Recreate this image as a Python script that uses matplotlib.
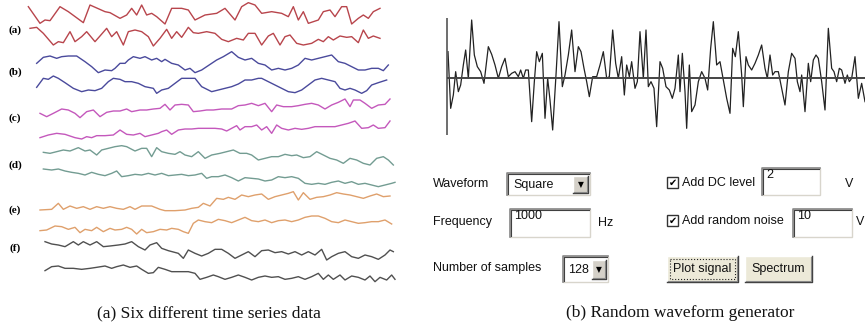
import numpy as np
import matplotlib
matplotlib.use("Agg")
import matplotlib.pyplot as plt
from matplotlib.patches import Rectangle

# ---- panel (a): six pairs of time series, (t, value) ----
# value is measured upwards from the bottom of each strip
red1 = [(10,55),(45,5),(60,15),(75,13),(105,55),(130,40),(175,7),(195,60),(240,40),(255,37),
        (285,20),(305,30),(320,50),(335,30),(350,60),(365,30),(380,35),(395,25),(420,3),(440,50),
        (470,50),(490,45),(510,15),(540,30),(575,35),(600,50),(630,15),(650,55),(670,67),(690,60),
        (710,35),(740,40),(770,35),(790,25),(805,55),(820,15),(835,40),(850,5),(880,15),(895,40),
        (915,45),(930,25),(950,55),(965,55),(980,3),(1000,20),(1015,30),(1030,20),(1045,40),(1065,50)]
red2 = [(15,55),(35,58),(55,40),(85,5),(100,15),(115,12),(135,45),(150,15),(170,30),(185,45),
        (210,15),(225,32),(245,55),(260,30),(275,45),(295,5),(310,45),(330,50),(350,45),(370,30),
        (385,2),(405,25),(425,52),(440,25),(455,45),(470,28),(490,58),(505,42),(520,40),(545,45),
        (570,40),(590,22),(610,15),(635,25),(655,20),(670,40),(690,40),(710,5),(730,32),(745,40),
        (765,5),(780,30),(795,35),(815,10),(835,5),(860,10),(880,22),(895,15),(910,30),(925,20),
        (945,32),(965,28),(980,30),(1000,12),(1015,50),(1030,25),(1045,32),(1065,25)]
blue1 = [(35,30),(55,48),(75,52),(95,45),(110,50),(130,52),(155,52),(180,35),(200,20),(220,2),
         (240,10),(260,8),(270,15),(285,30),(300,30),(310,40),(325,50),(345,45),(360,50),(380,40),
         (395,45),(410,35),(420,42),(440,30),(460,25),(480,10),(495,15),(510,2),(530,10),(545,20),
         (560,30),(575,40),(595,50),(620,65),(640,48),(660,40),(680,45),(700,30),(720,25),(740,10),
         (760,15),(780,10),(800,15),(820,25),(840,45),(860,40),(880,45),(900,50),(920,55),(940,35),
         (960,30),(980,20),(1000,10),(1020,10),(1040,15),(1060,15),(1075,8),(1090,25)]
blue2 = [(35,23),(55,50),(70,47),(85,57),(100,50),(120,37),(145,20),(170,10),(190,15),(210,13),
         (230,20),(250,40),(265,50),(285,47),(300,40),(320,40),(340,35),(360,25),(385,20),(395,5),
         (410,15),(430,20),(450,35),(470,50),(490,50),(510,50),(530,25),(560,10),(580,15),(600,20),
         (620,25),(640,33),(660,45),(680,45),(700,50),(710,50),(730,40),(760,25),(790,10),(810,7),
         (830,15),(850,30),(870,45),(890,50),(910,45),(930,40),(945,20),(960,15),(975,20),(990,15),
         (1010,5),(1025,13),(1040,30),(1060,37),(1085,45)]
mag1 = [(45,15),(65,5),(85,15),(110,28),(130,25),(150,15),(165,2),(185,20),(205,25),(225,5),
        (245,18),(265,22),(285,22),(305,28),(320,20),(345,25),(365,25),(385,28),(405,30),(420,42),
        (435,25),(450,40),(470,42),(490,40),(505,20),(525,22),(545,25),(565,25),(590,28),(620,28),
        (640,38),(660,40),(680,45),(700,38),(720,45),(740,20),(755,40),(775,35),(800,35),(820,38),
        (840,42),(860,45),(880,40),(900,28),(920,40),(940,48),(960,58),(975,35),(985,55),(1005,55),
        (1020,45),(1040,30),(1060,40),(1080,42),(1095,58)]
mag2 = [(45,2),(70,10),(95,15),(120,12),(150,2),(170,-2),(185,5),(200,2),(215,8),(240,8),
        (265,10),(285,25),(305,12),(325,10),(345,15),(360,5),(380,10),(400,15),(410,20),(425,25),
        (440,12),(460,25),(480,28),(500,28),(520,30),(545,30),(570,30),(590,28),(605,22),(620,30),
        (635,38),(645,25),(660,35),(680,35),(695,40),(710,25),(725,35),(740,15),(755,40),(770,30),
        (790,25),(810,30),(830,27),(850,30),(870,35),(890,35),(910,35),(930,35),(950,40),(970,45),
        (990,52),(1010,30),(1030,32),(1045,40),(1060,30),(1080,32),(1095,52)]
teal1 = [(55,38),(75,35),(95,40),(115,45),(135,42),(160,52),(180,42),(195,45),(215,30),(230,45),
         (250,50),(270,55),(290,58),(305,55),(330,42),(350,50),(365,50),(380,25),(395,52),(410,40),
         (430,35),(450,32),(465,40),(480,30),(500,25),(520,40),(540,20),(560,30),(585,35),(605,40),
         (625,45),(645,35),(665,35),(680,30),(700,15),(720,20),(740,25),(760,25),(780,32),(800,28),
         (815,30),(835,22),(855,25),(875,40),(895,30),(915,20),(935,15),(955,5),(975,20),(995,15),
         (1015,5),(1035,0),(1055,20),(1075,25),(1090,15),(1105,0)]
teal2 = [(55,58),(80,55),(100,58),(120,52),(140,48),(160,45),(180,40),(200,48),(220,42),(240,38),
         (260,45),(275,52),(290,35),(310,38),(330,42),(350,40),(370,45),(390,40),(410,45),(430,38),
         (450,40),(470,42),(490,38),(510,40),(530,45),(545,30),(560,35),(580,35),(600,40),(620,32),
         (640,22),(660,32),(680,30),(700,28),(720,22),(740,25),(760,35),(780,32),(800,35),(820,30),
         (840,15),(860,12),(880,15),(900,12),(920,18),(940,22),(960,15),(980,20),(1000,12),(1020,15),
         (1040,10),(1060,5),(1080,10),(1100,15),(1110,18)]
orange1 = [(45,5),(80,7),(100,25),(115,7),(135,17),(155,10),(175,15),(195,7),(215,15),(235,10),
           (255,15),(275,10),(295,7),(315,15),(330,7),(350,17),(380,17),(405,7),(420,3),(450,3),
           (480,5),(500,10),(520,13),(535,25),(555,17),(575,40),(595,37),(610,43),(630,37),(650,50),
           (670,45),(690,50),(710,53),(730,37),(750,45),(770,50),(790,55),(805,60),(820,35),(835,57),
           (855,37),(875,43),(895,45),(915,50),(935,57),(955,53),(975,50),(995,45),(1015,40),(1035,47),
           (1055,53),(1075,45),(1095,47)]
orange2 = [(45,13),(65,15),(90,27),(110,25),(130,17),(150,23),(165,7),(180,17),(200,13),(215,23),
           (235,10),(255,20),(270,15),(290,17),(305,23),(320,17),(335,3),(350,17),(365,7),(385,10),
           (405,17),(425,15),(440,20),(460,17),(475,10),(490,5),(505,35),(520,45),(540,40),(560,37),
           (580,47),(600,43),(620,37),(640,45),(660,53),(680,43),(700,40),(720,45),(740,37),(760,43),
           (780,45),(800,40),(820,45),(840,53),(860,57),(880,57),(900,50),(920,40),(940,37),(960,45),
           (980,40),(1000,35),(1020,37),(1040,40),(1060,40),(1080,45),(1100,33)]
gray1 = [(60,60),(80,53),(100,50),(120,45),(145,60),(160,50),(175,60),(195,50),(215,60),(235,45),
         (255,47),(280,50),(300,53),(320,60),(340,45),(360,35),(375,50),(395,57),(410,40),(430,33),
         (460,25),(475,10),(490,35),(510,25),(530,17),(550,25),(570,37),(590,37),(610,25),(630,10),
         (650,20),(670,30),(690,15),(710,33),(730,35),(750,27),(770,30),(790,23),(810,30),(830,20),
         (850,30),(870,20),(890,37),(905,5),(920,15),(940,25),(960,30),(980,15),(1000,10),(1020,20),
         (1040,15),(1060,7),(1080,20),(1095,35),(1105,30)]
gray2 = [(60,43),(80,55),(100,57),(120,50),(145,50),(170,47),(195,50),(215,53),(240,57),(260,50),
         (275,55),(295,60),(315,53),(335,57),(350,47),(370,35),(385,37),(400,53),(420,47),(440,40),
         (465,40),(490,40),(510,35),(525,17),(545,23),(565,30),(580,25),(600,17),(620,23),(640,30),
         (660,23),(680,15),(700,23),(720,27),(740,23),(760,25),(780,17),(800,20),(820,25),(840,17),
         (860,25),(880,35),(895,17),(910,30),(925,17),(945,30),(960,15),(980,27),(1000,23),(1020,15),
         (1035,27),(1050,10),(1065,23),(1085,15),(1100,30),(1110,17)]

series = [red1, red2, blue1, blue2, mag1, mag2, teal1, teal2, orange1, orange2, gray1, gray2]
colors = ["#b8454c", "#b8454c", "#4a4a9c", "#4a4a9c", "#c458bc", "#c458bc",
          "#739c92", "#739c92", "#dfa06c", "#dfa06c", "#505050", "#505050"]
strip_bottom = [75, 140, 220, 285, 355, 415, 495, 565, 635, 705, 785, 855]
labels = ["(a)", "(b)", "(c)", "(d)", "(e)", "(f)"]
label_y = [30, 72, 118, 165, 210, 248]

# ---- panel (b): 128-sample random waveform, (t, value) ----
wave = [(24,78),(32,-92),(40,-52),(47,18),(55,-42),(62,-22),(70,38),(77,83),(85,-2),(95,173),
        (103,68),(112,33),(122,18),(132,-17),(145,93),(155,70),(165,38),(175,-2),(185,33),(195,58),
        (205,3),(215,13),(225,18),(235,3),(242,23),(250,-2),(257,23),(265,23),(275,-132),(283,-12),
        (290,78),(298,48),(307,73),(315,-122),(323,-2),(330,-67),(338,-157),(348,8),(357,168),(367,-27),
        (375,8),(385,68),(395,143),(405,18),(415,93),(423,78),(432,28),(440,-12),(448,-57),(458,3),
        (470,3),(480,38),(490,78),(500,-2),(508,3),(518,143),(527,43),(535,-2),(545,63),(553,-52),
        (560,38),(568,3),(575,48),(585,-32),(592,-12),(600,138),(610,-2),(618,143),(625,-27),(633,-12),
        (642,-32),(650,-147),(660,48),(668,28),(678,-27),(688,-37),(697,-62),(705,-32),(715,68),(720,-42),
        (727,73),(735,-42),(740,-152),(748,38),(755,-102),(765,-82),(775,-12),(785,18),(795,-2),(803,-37),
        (812,88),(820,168),(830,38),(840,48),(850,-7),(860,-62),(870,-107),(878,88),(886,63),(895,138),
        (905,8),(910,-87),(918,63),(925,38),(935,23),(945,43),(955,68),(965,98),(975,28),(982,-2),
        (990,68),(998,8),(1005,18),(1015,18),(1025,-32),(1035,-82),(1045,18),(1055,73),(1065,58),(1072,-12),
        (1080,-42),(1085,8),(1095,-102),(1105,43),(1112,-12),(1120,53),(1128,68),(1135,58),(1145,-12),(1155,-97),
        (1165,148),(1175,28),(1182,18),(1190,-12),(1198,28),(1205,23),(1215,-17),(1222,8),(1228,-12),(1235,-2),
        (1245,63),(1255,-62),(1265,-17),(1275,-72)]

W, H = 865, 329
fig = plt.figure(figsize=(W / 100, H / 100), dpi=100, facecolor="white")


def px_axes(x0, y0, x1, y1):
    return fig.add_axes([x0 / W, 1 - y1 / H, (x1 - x0) / W, (y1 - y0) / H])


# background axes in pixel units for labels and the form widgets
bg = fig.add_axes([0, 0, 1, 1])
bg.set_xlim(0, W)
bg.set_ylim(H, 0)
bg.axis("off")

# left panel
left = px_axes(25, 0, 415, 290)
left.set_xlim(0, 1170)
left.set_ylim(870, 0)
left.axis("off")
for s, b, c in zip(series, strip_bottom, colors):
    t, v = np.array(s, dtype=float).T
    left.plot(t, b - v, color=c, lw=1.0)

for lab, y in zip(labels, label_y):
    bg.text(15, y, lab, ha="center", va="center", fontsize=8, fontweight="bold",
            family="Liberation Serif")

# right panel: waveform
wax = px_axes(440, 15, 865, 140)
wax.set_xlim(0, 1275)
wax.set_ylim(-187, 188)
wax.axis("off")
wt, wv = np.array(wave, dtype=float).T
wax.plot(wt, wv, color="#222222", lw=0.9)
wax.vlines(22, -172, 178, color="#555555", lw=1.2)
wax.hlines(0, 22, 1275, color="#444444", lw=1.4)

# form widgets
gui = dict(family="Liberation Sans", fontsize=9, color="#111111", va="center")


def sunken(x0, y0, x1, y1):
    bg.add_patch(Rectangle((x0, y0), x1 - x0, y1 - y0, facecolor="white",
                           edgecolor="#d8d5cc", lw=1))
    bg.plot([x0, x0, x1], [y1, y0, y0], color="#888888", lw=1.2)
    bg.plot([x0 + 1.2, x0 + 1.2, x1 - 1.2], [y1 - 1.2, y0 + 1.2, y0 + 1.2], color="#404040", lw=0.8)


def raised(x0, y0, x1, y1, face="#d4d0c8"):
    bg.add_patch(Rectangle((x0, y0), x1 - x0, y1 - y0, facecolor=face, edgecolor="none"))
    bg.plot([x0, x0, x1], [y1, y0, y0], color="white", lw=1.0)
    bg.plot([x0, x1, x1], [y1, y1, y0], color="#404040", lw=1.0)
    bg.plot([x0 + 1, x1 - 1, x1 - 1], [y1 - 1, y1 - 1, y0 + 1], color="#888888", lw=0.8)


def checkbox(x0, y0):
    bg.add_patch(Rectangle((x0, y0), 11, 11, facecolor="white", edgecolor="#333333", lw=1))
    bg.text(x0 + 5.5, y0 + 6, "\u2714", ha="center", va="center", fontsize=7,
            family="DejaVu Sans", color="black")


bg.text(433, 184, "Waveform", ha="left", **gui)
sunken(507, 173, 590, 195)
bg.text(513, 185, "Square", ha="left", **gui)
raised(573, 176, 588, 193)
bg.text(580.5, 185, "\u25bc", ha="center", va="center", fontsize=5.5, family="DejaVu Sans")

bg.text(433, 222, "Frequency", ha="left", **gui)
sunken(510, 209, 590, 237)
bg.text(514, 216, "1000", ha="left", **gui)
bg.text(598, 223, "Hz", ha="left", **gui)

bg.text(433, 268, "Number of samples", ha="left", **gui)
sunken(563, 256, 608, 282)
bg.text(568, 270, "128", ha="left", **gui)
raised(592, 260, 606, 279)
bg.text(599, 270, "\u25bc", ha="center", va="center", fontsize=5.5, family="DejaVu Sans")

checkbox(667, 177)
bg.text(682, 183, "Add DC level", ha="left", **gui)
sunken(762, 168, 820, 195)
bg.text(766, 175, "2", ha="left", **gui)
bg.text(845, 184, "V", ha="left", **gui)

checkbox(667, 215)
bg.text(682, 221, "Add random noise", ha="left", **gui)
sunken(793, 209, 852, 237)
bg.text(797, 216, "10", ha="left", **gui)
bg.text(856, 222, "V", ha="left", **gui)

raised(667, 256, 738, 282, face="#ece9d8")
bg.add_patch(Rectangle((670, 259), 65, 20, fill=False, edgecolor="#222222", lw=0.8, ls=":"))
bg.text(702.5, 269, "Plot signal", ha="center", **gui)
raised(745, 256, 812, 282, face="#ece9d8")
bg.text(778.5, 269, "Spectrum", ha="center", **gui)

# captions
cap = dict(family="Liberation Serif", fontsize=12.5, ha="center", va="center", color="#111111")
bg.text(209, 313, "(a) Six different time series data", **cap)
bg.text(680, 313, "(b) Random waveform generator", **cap)

fig.savefig("out.png", dpi=100, facecolor="white")
